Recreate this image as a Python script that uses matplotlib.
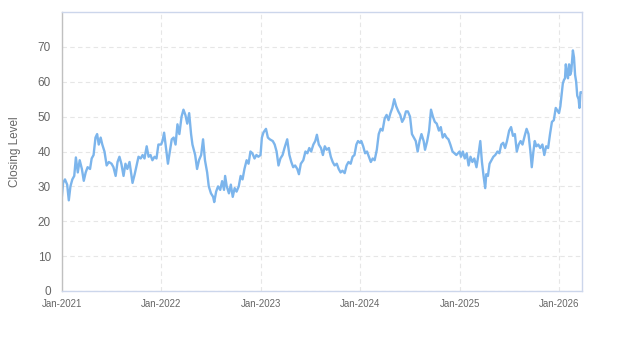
import matplotlib
matplotlib.use('Agg')
import matplotlib.pyplot as plt
import matplotlib.dates as mdates
import pandas as pd

plt.rcParams['font.family'] = ['Liberation Sans', 'DejaVu Sans']

# closing levels, grouped by year (MM-DD, value)
days_2021 = ['01-01', '01-05', '01-12', '01-20', '01-26', '02-01', '02-08', '02-15', '02-21', '02-28',
             '03-07', '03-15', '03-22', '03-29', '04-05', '04-14', '04-20', '04-27', '05-04', '05-10',
             '05-16', '05-23', '05-29', '06-06', '06-14', '06-22', '07-02', '07-09', '07-17', '07-24',
             '07-31', '08-07', '08-15', '08-22', '08-29', '09-06', '09-17', '09-25', '10-02', '10-09',
             '10-17', '10-24', '10-31', '11-08', '11-15', '11-22', '11-29', '12-07', '12-14', '12-21',
             '12-31']
close_2021 = [27.4, 31, 32, 30.5, 26, 30, 32, 33, 38.3, 34,
              37.5, 35, 31.6, 34, 35.5, 35, 38, 39, 44, 45,
              42, 44, 42, 40, 36, 37, 36.5, 35.5, 33, 37,
              38.5, 36.5, 33, 36.5, 35, 37, 31, 33.5, 36, 38.5,
              38, 39, 38, 41.5, 38.5, 39, 37.5, 38.5, 38, 42,
              42]

days_2022 = ['01-05', '01-11', '01-18', '01-25', '02-01', '02-08', '02-15', '02-22', '03-01', '03-08',
             '03-16', '03-23', '03-30', '04-06', '04-13', '04-20', '04-25', '05-05', '05-12', '05-19',
             '05-27', '06-03', '06-10', '06-18', '06-24', '07-02', '07-10', '07-14', '07-21', '07-28',
             '08-05', '08-12', '08-19', '08-23', '08-29', '09-06', '09-13', '09-20', '09-27', '10-04',
             '10-12', '10-19', '10-26', '11-02', '11-10', '11-17', '11-24', '12-01', '12-09', '12-16',
             '12-23', '12-31']
close_2022 = [43, 45.4, 41, 36.5, 40, 43.5, 44, 42, 47.8, 45,
              50, 52, 50.5, 48, 51, 45, 42, 39, 35, 37.5,
              39, 43.5, 37.5, 34, 30, 28, 27, 25.5, 28.5, 30,
              29, 31.5, 29, 33, 30, 28, 30.5, 27, 29.5, 28.5,
              30, 33, 32, 35, 37.5, 36.5, 40, 39.5, 38, 39,
              38.5, 39]

days_2023 = ['01-05', '01-11', '01-20', '01-27', '02-03', '02-14', '02-21', '02-28', '03-07', '03-14',
             '03-22', '03-29', '04-08', '04-16', '04-23', '04-30', '05-07', '05-15', '05-21', '05-28',
             '06-06', '06-14', '06-21', '06-28', '07-05', '07-13', '07-20', '07-26', '08-02', '08-10',
             '08-17', '08-24', '08-31', '09-08', '09-15', '09-22', '09-29', '10-07', '10-14', '10-21',
             '10-28', '11-05', '11-12', '11-19', '11-27', '12-04', '12-11', '12-18', '12-24', '12-31']
close_2023 = [44, 45.5, 46.5, 44, 43.5, 43, 42, 40, 36, 38,
              39, 41, 43.5, 39, 37, 35.5, 36, 35, 33.5, 36.5,
              37.5, 40, 39.5, 41, 40, 42, 43, 44.8, 42, 41,
              39, 41.5, 40.5, 41, 38.5, 37, 36, 36.5, 35, 34,
              34.5, 33.8, 36, 37, 36.5, 38.5, 39, 42, 43, 42.5]

days_2024 = ['01-05', '01-12', '01-19', '01-26', '02-02', '02-09', '02-16', '02-23', '03-02', '03-09',
             '03-16', '03-23', '03-31', '04-07', '04-14', '04-21', '04-28', '05-05', '05-12', '05-20',
             '05-27', '06-03', '06-10', '06-17', '06-24', '07-02', '07-09', '07-16', '07-23', '07-30',
             '08-06', '08-13', '08-21', '08-26', '09-03', '09-10', '09-17', '09-24', '10-01', '10-08',
             '10-16', '10-23', '10-30', '11-06', '11-13', '11-20', '11-27', '12-05', '12-12', '12-19',
             '12-31']
close_2024 = [43, 41.5, 39.5, 40, 38.5, 37, 38, 37.5, 40.5, 45,
              46.5, 46, 49.5, 50.5, 49, 51, 52.5, 55, 53, 51.5,
              50.5, 48.5, 49.5, 51.5, 51.5, 50, 45, 44, 43, 40,
              43, 45, 43, 40.5, 43, 46, 52, 50, 48.5, 48,
              46, 47, 44, 45, 44, 43.5, 42, 40, 39.5, 39,
              40]

days_2025 = ['01-05', '01-12', '01-19', '01-26', '02-02', '02-09', '02-16', '02-23', '03-03', '03-10',
             '03-17', '03-23', '03-29', '04-04', '04-08', '04-14', '04-20', '04-27', '05-04', '05-11',
             '05-19', '05-26', '06-02', '06-09', '06-16', '06-23', '07-01', '07-08', '07-15', '07-22',
             '07-29', '08-05', '08-12', '08-19', '08-27', '09-03', '09-10', '09-17', '09-22', '09-28',
             '10-03', '10-09', '10-16', '10-23', '10-31', '11-07', '11-14', '11-21', '11-28', '12-05',
             '12-12', '12-19', '12-31']
close_2025 = [38.5, 40, 38, 39.5, 36, 38.5, 37, 38, 35.5, 39,
              43, 37, 33, 29.5, 33.5, 33, 36.5, 37.5, 38.5, 39,
              40, 39.5, 42, 42.5, 41, 43, 46, 47, 44.5, 45,
              40, 42, 43, 42, 44.5, 46.5, 45, 40, 35.5, 40,
              43, 41.5, 42, 41, 42, 39, 41.5, 41, 45, 48.5,
              49, 52.5, 51]

days_2026 = ['01-05', '01-09', '01-14', '01-18', '01-22', '01-25', '01-29', '02-02', '02-06', '02-10',
             '02-14', '02-20', '02-24', '02-28', '03-04', '03-08', '03-13', '03-16', '03-20', '03-25']
close_2026 = [53, 56, 59.5, 60.5, 61, 65, 62.5, 61, 65, 62,
              63, 69, 67, 62, 60, 56, 55, 52.5, 57, 57]

years = [2021, 2022, 2023, 2024, 2025, 2026]
all_days = [days_2021, days_2022, days_2023, days_2024, days_2025, days_2026]
all_close = [close_2021, close_2022, close_2023, close_2024, close_2025, close_2026]

dates, levels = [], []
for yr, d, c in zip(years, all_days, all_close):
    dates += [pd.Timestamp(f'{yr}-{md}') for md in d]
    levels += c

fig = plt.figure(figsize=(6.23, 3.5), dpi=100)
ax = fig.add_axes([0.0995, 0.1686, 0.8345, 0.797])

ax.plot(dates, levels, color='#7cb5ec', lw=1.7, solid_joinstyle='round')

ax.set_xlim(dates[0], dates[-1])
ax.set_ylim(0, 80)
ax.set_yticks(range(0, 71, 10))
ax.xaxis.set_major_locator(mdates.YearLocator())
ax.xaxis.set_major_formatter(mdates.DateFormatter('%b-%Y'))

ax.grid(True, color='#e6e6e6', ls=(0, (4, 3)), lw=0.8)
ax.set_axisbelow(True)
for s in ax.spines.values():
    s.set_color('#ccd6eb')
    s.set_linewidth(1)
ax.spines['left'].set_color('#c0c0c0')

ax.tick_params(axis='y', length=0, pad=8, labelsize=8.5, labelcolor='#666666')
ax.tick_params(axis='x', length=0, pad=6, labelsize=7, labelcolor='#666666')
ax.set_ylabel('Closing Level', fontsize=8.5, color='#666666', labelpad=12)

fig.savefig('out.png', dpi=100)
